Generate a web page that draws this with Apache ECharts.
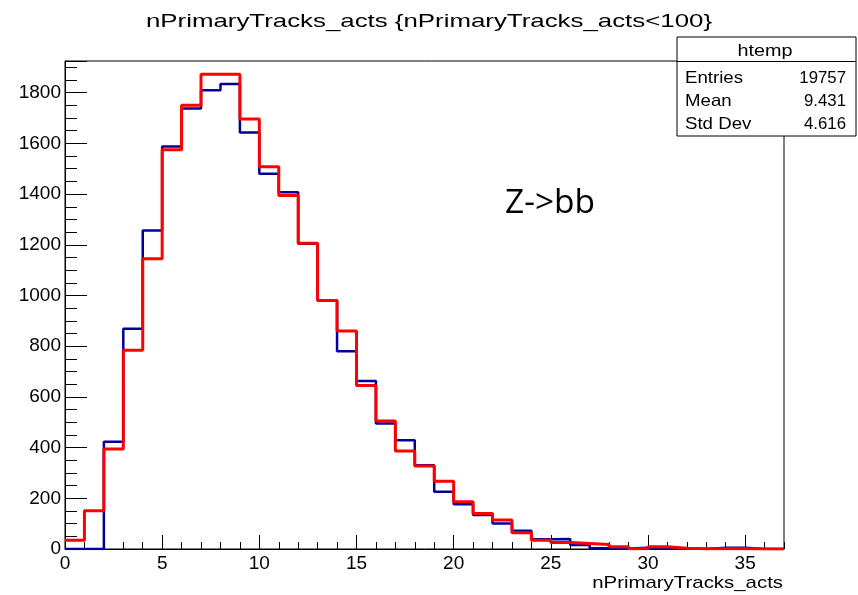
<!DOCTYPE html>
<html><head><meta charset="utf-8">
<script src="https://cdn.jsdelivr.net/npm/echarts@6/dist/echarts.min.js"></script>
<style>html,body{margin:0;padding:0;background:#fff}#c{width:858px;height:595px}</style>
</head><body><div id="c"></div>
<script>
const binEdges = [0,1,2,3,4,5,6,7,8,9,10,11,12,13,14,15,16,17,18,19,20,21,22,23,24,25,26,27,28,29,30,31,32,33,34,35,36,37];
const blueCounts = [0,0,423,869,1256,1588,1738,1810,1834,1643,1480,1407,1204,980,780,663,495,429,330,226,177,134,101,72,38,39,16,3,2,5,3,3,0,5,5,0,0];
const redCounts  = [35,151,394,784,1145,1575,1750,1873,1873,1696,1508,1394,1206,980,860,645,505,387,327,267,186,140,114,64,35,26,22,18,9,1,9,3,1,1,1,0,0];
const yTicks = [0,200,400,600,800,1000,1200,1400,1600,1800];
const xTicks = [0,5,10,15,20,25,30,35];
const statsTitle = "htemp";
const statsRows = [["Entries","19757"],["Mean","9.431"],["Std Dev","4.616"]];
const titleText = "nPrimaryTracks_acts {nPrimaryTracks_acts<100}";
const xTitle = "nPrimaryTracks_acts";
const annot = "Z->bb";

function stepData(counts){
  const d = counts.map((v,i)=>[binEdges[i], v]);
  d.push([binEdges[binEdges.length-1], counts[counts.length-1]]);
  return d;
}
const FONT = "Liberation Sans, Arial, sans-serif";
const chart = echarts.init(document.getElementById('c'), null, {renderer:'canvas'});
const L=65, T=61, R=784, B=549;
const XMAX=37, YMAX=1925;
const noLbl = {show:false};
chart.setOption({
  animation:false,
  backgroundColor:'#ffffff',
  grid:{left:L,top:T,width:R-L,height:B-T,show:true,borderColor:'#000',borderWidth:1,backgroundColor:'transparent'},
  xAxis:[
    {type:'value',min:0,max:XMAX,interval:5,
      axisLine:{show:true,onZero:false,lineStyle:{color:'#000',width:1}},
      axisTick:{show:true,inside:true,length:14,lineStyle:{color:'#000'}},
      splitLine:{show:false},
      axisLabel:{fontFamily:FONT,fontSize:19,color:'#000',margin:5,showMaxLabel:false,
        formatter:v=> xTicks.includes(v)? String(v):''}
    },
    {type:'value',min:0,max:XMAX,interval:1,position:'bottom',
      axisLine:{show:false,onZero:false},
      axisTick:{show:true,inside:true,length:7,lineStyle:{color:'#000'}},
      splitLine:{show:false},axisLabel:noLbl}
  ],
  yAxis:[
    {type:'value',min:0,max:YMAX,interval:200,
      axisLine:{show:true,lineStyle:{color:'#000',width:1}},
      axisTick:{show:true,inside:true,length:22,lineStyle:{color:'#000'}},
      splitLine:{show:false},
      axisLabel:{fontFamily:FONT,fontSize:19,color:'#000',margin:4,
        formatter:v=> yTicks.includes(v)? String(v):''}
    },
    {type:'value',min:0,max:YMAX,interval:50,position:'left',
      axisLine:{show:false},
      axisTick:{show:true,inside:true,length:12,lineStyle:{color:'#000'}},
      splitLine:{show:false},axisLabel:noLbl}
  ],
  series:[
    {type:'line',step:'end',data:stepData(blueCounts),symbol:'none',lineStyle:{color:'#000099',width:2.5},z:2},
    {type:'line',step:'end',data:stepData(redCounts),symbol:'none',lineStyle:{color:'#ff0000',width:3},z:3}
  ],
  graphic:[
    {type:'text',x:429,y:22,scaleX:1.36,style:{text:titleText,fontFamily:FONT,fontSize:19,fill:'#000',align:'center',verticalAlign:'middle'}},
    {type:'text',x:783,y:583,scaleX:1.2,style:{text:xTitle,fontFamily:FONT,fontSize:17,fill:'#000',align:'right',verticalAlign:'middle'}},
    {type:'text',x:505,y:203,style:{text:annot,fontFamily:'Open Sans, sans-serif',fontSize:33.5,fill:'#000',align:'left',verticalAlign:'middle'}},
    {type:'rect',z:10,shape:{x:677,y:37,width:179,height:99},style:{fill:'#fff',stroke:'#000',lineWidth:1}},
    {type:'line',z:11,shape:{x1:677,y1:61.5,x2:856,y2:61.5},style:{stroke:'#000',lineWidth:1}},
    {type:'text',z:11,x:765,y:51,scaleX:1.2,style:{text:statsTitle,fontFamily:FONT,fontSize:16.5,fill:'#000',align:'center',verticalAlign:'middle'}},
    ...statsRows.flatMap((r,i)=>[
      {type:'text',z:11,x:685,y:78+i*23.2,scaleX:1.13,style:{text:r[0],fontFamily:FONT,fontSize:16.5,fill:'#000',align:'left',verticalAlign:'middle'}},
      {type:'text',z:11,x:846,y:78+i*23.2,style:{text:r[1],fontFamily:FONT,fontSize:16.8,fill:'#000',align:'right',verticalAlign:'middle'}}
    ])
  ]
});
</script></body></html>
